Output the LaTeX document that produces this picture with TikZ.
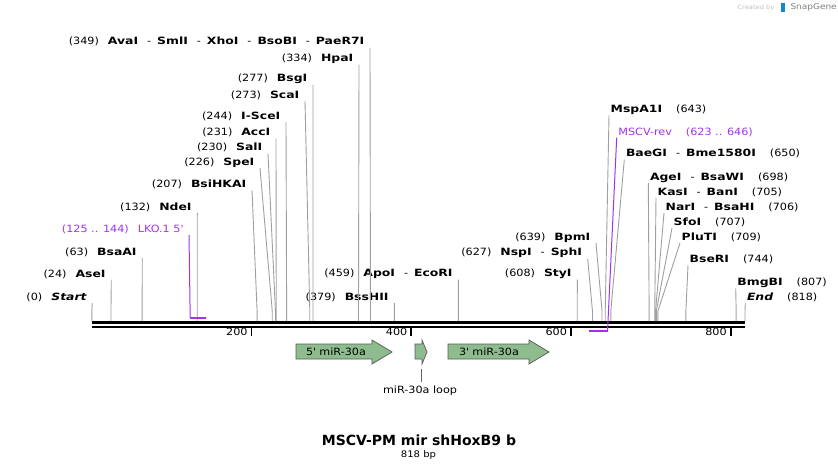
\documentclass[tikz,border=0pt]{standalone}
\usepackage{fontspec}
\setmainfont{DejaVu Sans}[FakeStretch=1.12]
\newfontfamily\enzf{DejaVu Sans}[FakeStretch=1.24]
\newfontfamily\titlef{DejaVu Sans}
\usepackage{xcolor}
\usetikzlibrary{arrows.meta,positioning}
\definecolor{primer}{RGB}{160,50,240}
\definecolor{featfill}{RGB}{143,188,143}
\newcommand{\enz}[1]{{\enzf\bfseries #1}}
\newcommand{\dsh}{\hspace{9pt}-\hspace{6pt}}
\newcommand{\nsp}{\hspace{9pt}}
\newcommand{\rsp}{\hspace{14pt}}

\begin{document}
\begin{tikzpicture}
  [x=1pt, y=-1pt,
  lab/.style={font=\fontsize{10}{12}\selectfont, inner sep=0pt, text height=7.3pt, text depth=0pt},
  cut/.style={draw=gray!75, line width=0.9pt, to path={-- (\tikztotarget |- knee) -- (\tikztotarget)}},
  oligo/.style={draw=primer, line width=1pt},
  feat/.style={draw=black!65, fill=featfill, line width=0.7pt},
  ]
  \useasboundingbox (0,0) rectangle (838,471);
  \coordinate (knee) at (0,311);

  % backbone
  \draw[line width=3pt] (91.8,322.3) coordinate (S) -- (745,322.3) coordinate (E);
  \draw[line width=2pt] (91.8,326.5) -- (745,326.5);
  \foreach \t in {200,400,600,800}
    \draw[line width=1.8pt] ({91.8+0.7985*\t},327) -- ++(0,8.5)
      node[lab, anchor=east, xshift=-3pt, yshift=4pt] (tick\t) {\t};

  % sites left of their lines
  \node[lab, anchor=east] (start) at (86.8,296.7) {(0)\nsp{\enzf\bfseries\itshape Start}};
  \node[lab, anchor=east] (aseI) at (105.8,274) {(24)\nsp\enz{AseI}};
  \node[lab, anchor=east] (bsaAI) at (136.8,251.7) {(63)\nsp\enz{BsaAI}};
  \node[lab, anchor=east] (ndeI) at (191.8,206.7) {(132)\nsp\enz{NdeI}};
  \node[lab, anchor=east] (bsiHKAI) at (246.5,184) {(207)\nsp\enz{BsiHKAI}};
  \node[lab, anchor=east] (speI) at (254.5,161.7) {(226)\nsp\enz{SpeI}};
  \node[lab, anchor=east] (salI) at (262.5,147.3) {(230)\nsp\enz{SalI}};
  \node[lab, anchor=east] (accI) at (270.5,132.3) {(231)\nsp\enz{AccI}};
  \node[lab, anchor=east] (iSceI) at (280.5,115.7) {(244)\nsp\enz{I-SceI}};
  \node[lab, anchor=east] (scaI) at (299.5,94.7) {(273)\nsp\enz{ScaI}};
  \node[lab, anchor=east] (bsgI) at (307.5,78.3) {(277)\nsp\enz{BsgI}};
  \node[lab, anchor=east] (hpaI) at (353.5,58.3) {(334)\nsp\enz{HpaI}};
  \node[lab, anchor=east] (avaI) at (364.5,41.3)
    {(349)\nsp\enz{AvaI}\dsh\enz{SmlI}\dsh\enz{XhoI}\dsh\enz{BsoBI}\dsh\enz{PaeR7I}};
  \node[lab, anchor=east] (bssHII) at (388.8,296.7) {(379)\nsp\enz{BssHII}};
  \node[lab, anchor=east] (apoI) at (452.8,273.3) {(459)\nsp\enz{ApoI}\dsh\enz{EcoRI}};
  \node[lab, anchor=east] (styI) at (571.8,273.3) {(608)\nsp\enz{StyI}};
  \node[lab, anchor=east] (nspI) at (582.2,252.3) {(627)\nsp\enz{NspI}\dsh\enz{SphI}};
  \node[lab, anchor=east] (bpmI) at (590.5,236.7) {(639)\nsp\enz{BpmI}};

  \foreach \n/\b in {start/0, aseI/24, bsaAI/63, ndeI/132, bsiHKAI/207, speI/226,
      salI/230, accI/231, iSceI/244, scaI/273, bsgI/277, hpaI/334, avaI/349,
      bssHII/379, apoI/459, styI/608, nspI/627, bpmI/639}
    \draw[cut] ([shift={(5.5,6.3)}]\n.east) coordinate (\n-t)
      to ({91.8+0.7985*\b},321);

  % sites right of their lines
  \node[lab, anchor=west] (mspA1I) at (610.5,109) {\enz{MspA1I}\rsp(643)};
  \node[lab, anchor=west] (baeGI) at (625.8,153.3) {\enz{BaeGI}\dsh\enz{Bme1580I}\rsp(650)};
  \node[lab, anchor=west] (ageI) at (649.8,176.7) {\enz{AgeI}\dsh\enz{BsaWI}\rsp(698)};
  \node[lab, anchor=west] (kasI) at (657.5,191.7) {\enz{KasI}\dsh\enz{BanI}\rsp(705)};
  \node[lab, anchor=west] (narI) at (665.5,206.7) {\enz{NarI}\dsh\enz{BsaHI}\rsp(706)};
  \node[lab, anchor=west] (sfoI) at (673.5,221.7) {\enz{SfoI}\rsp(707)};
  \node[lab, anchor=west] (pluTI) at (681.5,236.7) {\enz{PluTI}\rsp(709)};
  \node[lab, anchor=west] (bseRI) at (689.5,259) {\enz{BseRI}\rsp(744)};
  \node[lab, anchor=west] (bmgBI) at (737.2,282) {\enz{BmgBI}\rsp(807)};
  \node[lab, anchor=west] (theEnd) at (746.8,296.7) {{\enzf\bfseries\itshape End}\rsp(818)};

  \foreach \n/\b in {mspA1I/643, baeGI/650, ageI/698, kasI/705, narI/706,
      sfoI/707, pluTI/709, bseRI/744, bmgBI/807, theEnd/818}
    \draw[cut] ([shift={(-1.5,6.3)}]\n.west) coordinate (\n-t)
      to ({91.8+0.7985*\b},321);

  % primers
  \node[lab, anchor=east, text=primer] (lko) at (183.5,229) {(125 .. 144)\nsp LKO.1 5\textquotesingle};
  \coordinate (lko-s) at (190.2,317.7);
  \coordinate (lko-e) at (206.2,317.7);
  \draw[oligo] ([shift={(5.5,6)}]lko.east) -- (lko-s);
  \draw[oligo, line width=2pt] (lko-s) -- (lko-e);

  \node[lab, anchor=west, text=primer] (mscv) at (618.2,132.3) {MSCV-rev\rsp(623 .. 646)};
  \coordinate (mscv-s) at (589,330.7);
  \coordinate (mscv-e) at (607.5,330.7);
  \draw[oligo] ([shift={(-1.5,5.4)}]mscv.west) -- ([yshift=-1pt]mscv-e);
  \draw[oligo, line width=2pt] (mscv-s) -- (mscv-e);

  % features
  \draw[feat] (296,344) -- (372,344) -- (372,340) -- (392,352) -- (372,364)
    -- (372,359) -- (296,359) -- cycle;
  \node[lab] (mir5) at (336,352) {5\textquotesingle\ miR-30a};
  \draw[feat] (415,344) -- (422,344) -- (422,340) -- (427,352) -- (422,364)
    -- (422,359) -- (415,359) -- cycle;
  \draw[feat] (448,344) -- (529,344) -- (529,340) -- (549,352) -- (529,364)
    -- (529,359) -- (448,359) -- cycle;
  \node[lab] (mir3) at (489,352) {3\textquotesingle\ miR-30a};

  \node[lab] (loop) at (420,390) {miR-30a loop};
  \coordinate (loop-t) at (421.5,369);
  \draw[draw=black!60, line width=0.8pt] (loop-t) -- ([shift={(1.5,-4)}]loop.north);

  % title
  \node[font=\fontsize{14}{16}\selectfont\titlef\bfseries] (title) at (419,440) {MSCV-PM mir shHoxB9 b};
  \node[font=\fontsize{9}{11}\selectfont] (len) at (418.5,455) {818 bp};

  \node[font=\fontsize{6}{7}\selectfont, text=black!25, anchor=east] (made) at (778,7.5) {Created by};
  \fill[cyan!70!blue] (781,3) rectangle (784.5,12);
  \node[font=\fontsize{8}{9}\selectfont, text=black!50, anchor=west] (snap) at (787,7.5) {SnapGene};
\end{tikzpicture}
\end{document}
